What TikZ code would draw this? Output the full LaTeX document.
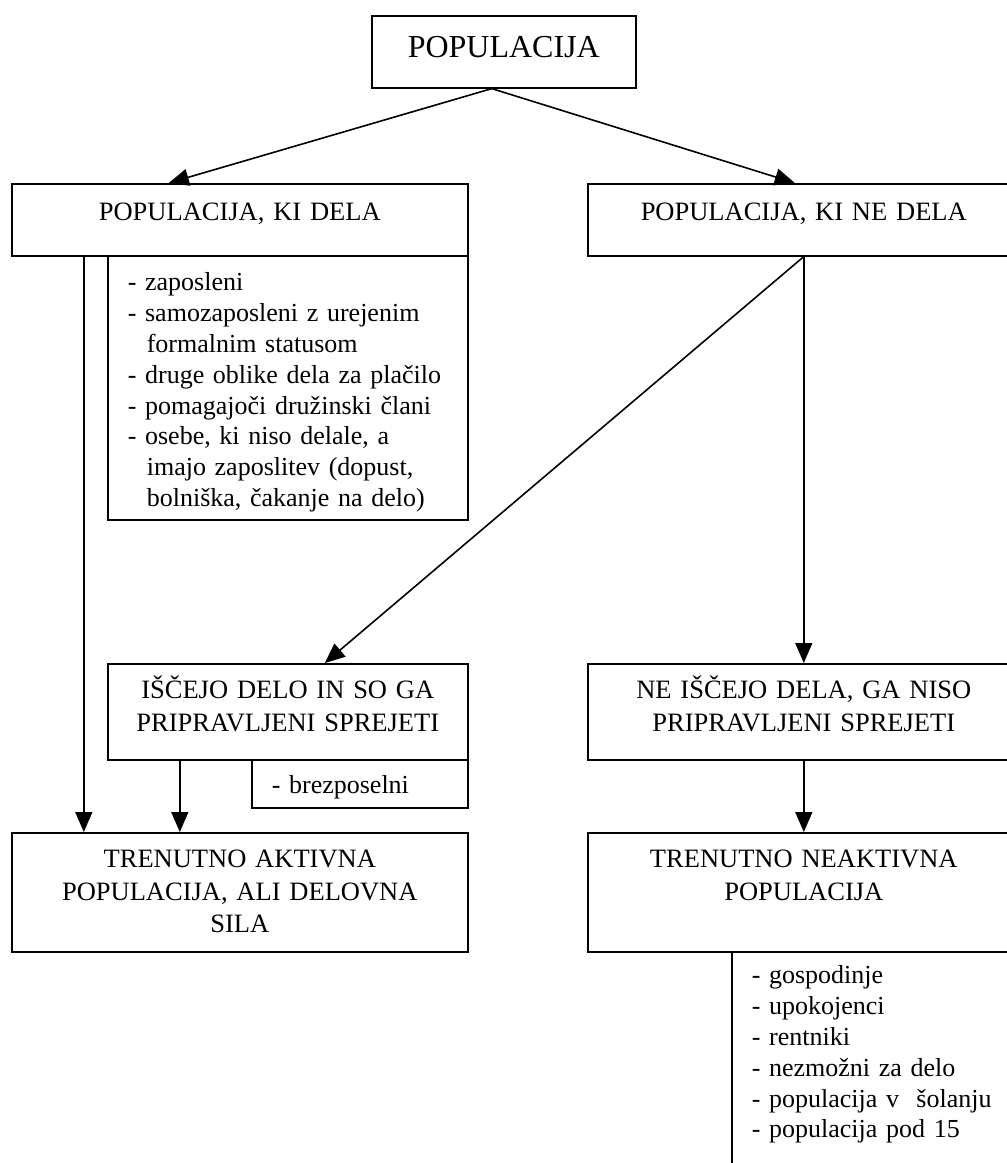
\documentclass[tikz,border=0pt]{standalone}
\usepackage{fontspec}
\setmainfont{Liberation Serif}
\usetikzlibrary{arrows.meta}

\begin{document}
\begin{tikzpicture}[x=1pt, y=-1pt, line width=1.6pt,
        box/.style={draw, anchor=north west, inner sep=0pt, align=center,
            font=\fontsize{26.5}{32.5}\selectfont},
        listbox/.style={draw, anchor=north west, inner xsep=20pt, inner ysep=0pt, align=left,
            font=\fontsize{26}{30.8}\selectfont},
        arrow/.style={-{Triangle[length=20pt, width=17pt]}}]
            \useasboundingbox (0, 0) rectangle (1007, 1163);
            % boxes
            \node[box, text width=264pt, text height=42pt, text depth=30pt,
                font=\fontsize{32}{38}\selectfont] (pop) at (371, 15) {POPULACIJA};
            \node[box, text width=456pt, text height=37pt, text depth=35pt] (work) at (11, 183) {POPULACIJA, KI DELA};
            \node[box, text width=432pt, text height=37pt, text depth=35pt] (notwork) at (587, 183) {POPULACIJA, KI NE DELA};
            \node[listbox, text width=320pt, text height=35pt, text depth=229pt] (worklist) at (107, 255)
                {- zaposleni\\
                 - samozaposleni z urejenim\\
                 \hspace*{19pt}formalnim statusom\\
                 - druge oblike dela za plačilo\\
                 - pomagajoči družinski člani\\
                 - osebe, ki niso delale, a\\
                 \hspace*{19pt}imajo zaposlitev (dopust,\\
                 \hspace*{19pt}bolniška, čakanje na delo)};
            \node[box, text width=360pt, text height=35pt, text depth=61pt] (seek) at (107, 663)
                {IŠČEJO DELO IN SO GA\\ PRIPRAVLJENI SPREJETI};
            \node[box, text width=432pt, text height=35pt, text depth=61pt] (notseek) at (587, 663)
                {NE IŠČEJO DELA, GA NISO\\ PRIPRAVLJENI SPREJETI};
            \node[listbox, text width=176pt, text height=34pt, text depth=14pt] (seeklist) at (251, 759) {- brezposelni};
            \node[box, text width=456pt, text height=35pt, text depth=84pt] (active) at (11, 832)
                {TRENUTNO AKTIVNA\\ POPULACIJA, ALI DELOVNA\\ SILA};
            \node[box, text width=432pt, text height=35pt, text depth=84pt] (inactive) at (587, 832)
                {TRENUTNO NEAKTIVNA\\ POPULACIJA};
            \node[listbox, text width=300pt, text height=32pt, text depth=250pt] (inactlist) at (731, 951)
                {- gospodinje\\
                 - upokojenci\\
                 - rentniki\\
                 - nezmožni za delo\\
                 - populacija v\ \ šolanju\\
                 - populacija pod 15};
            % arrows
            \draw[arrow] ([xshift=-12pt]pop.south) -- ([xshift=-71pt]work.north);
            \draw[arrow] ([xshift=-12pt]pop.south) -- ([xshift=-9pt]notwork.north);
            \draw[arrow] ([xshift=-156pt]work.south) -- ([xshift=-156pt]active.north);
            \draw[arrow] (notwork.south) -- ([xshift=37pt]seek.north);
            \draw[arrow] (notwork.south) -- (notseek.north);
            \draw[arrow] ([xshift=-108pt]seek.south) -- ([xshift=-60pt]active.north);
            \draw[arrow] (notseek.south) -- (inactive.north);
        \end{tikzpicture}
\end{document}
